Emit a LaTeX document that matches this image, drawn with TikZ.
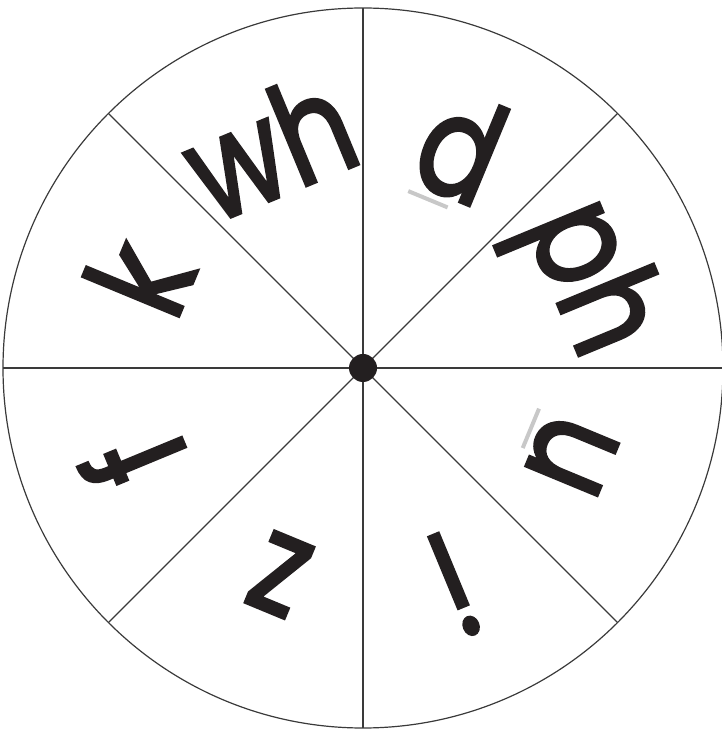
\documentclass[tikz,border=0pt]{standalone}
\usepackage{fontspec}
\usepackage{xcolor}
\newfontfamily\wheelfont{Poppins}[FakeBold=2.5]
\usetikzlibrary{calc}
\definecolor{rim}{HTML}{3A3A3A}
\definecolor{ink}{HTML}{231F20}
\definecolor{guide}{HTML}{C8C8C8}

% grey mark under a letter, so that it is not read upside down
\newcommand{\guidemark}{\rlap{\smash{\hspace{8pt}\color{guide}\rule[-12pt]{52pt}{4pt}}}}

\begin{document}
\begin{tikzpicture}[x=1pt, y=1pt, line width=1.2pt]
  \tikzset{
    letter/.style={font=\wheelfont\fontsize{140}{140}\selectfont, inner sep=0pt, text=ink},
  }
  \useasboundingbox (0,0) rectangle (722,732);
  \coordinate (hub) at (363,364);

  % 1. Rim and spokes
  \draw[rim] (hub) circle[radius=360];
  \foreach \a in {0,45,...,315} {
    \coordinate (rim\a) at ($(hub)+(\a:360)$);
    \draw[rim] (hub) -- (rim\a);
  }
  \fill[ink] (hub) circle[radius=14];

  % 2. Letters, tops pointing outwards
  \node[letter, rotate=22.5, xscale=0.82]   (wh) at ($(hub)+(112.9:242)$) {wh};
  \node[letter, rotate=-22.5, xscale=0.82]  (d)  at ($(hub)+(66:242)$) {\guidemark d};
  \node[letter, rotate=-67.5, xscale=0.82]  (ph) at ($(hub)+(21.5:238)$) {ph};
  \node[letter, rotate=-112.5, xscale=0.82] (u)  at ($(hub)+(-22.6:226)$) {\guidemark u};
  \node[letter, rotate=-157.5, xscale=0.82] (i)  at ($(hub)+(-67.2:235)$) {i};
  \node[letter, rotate=157.5, xscale=0.82]  (z)  at ($(hub)+(-112:223)$) {z};
  \node[letter, rotate=112.5, xscale=0.82]  (f)  at ($(hub)+(201.8:248)$) {f};
  \node[letter, rotate=67.5, xscale=0.82]   (k)  at ($(hub)+(158:242)$) {k};
\end{tikzpicture}
\end{document}
